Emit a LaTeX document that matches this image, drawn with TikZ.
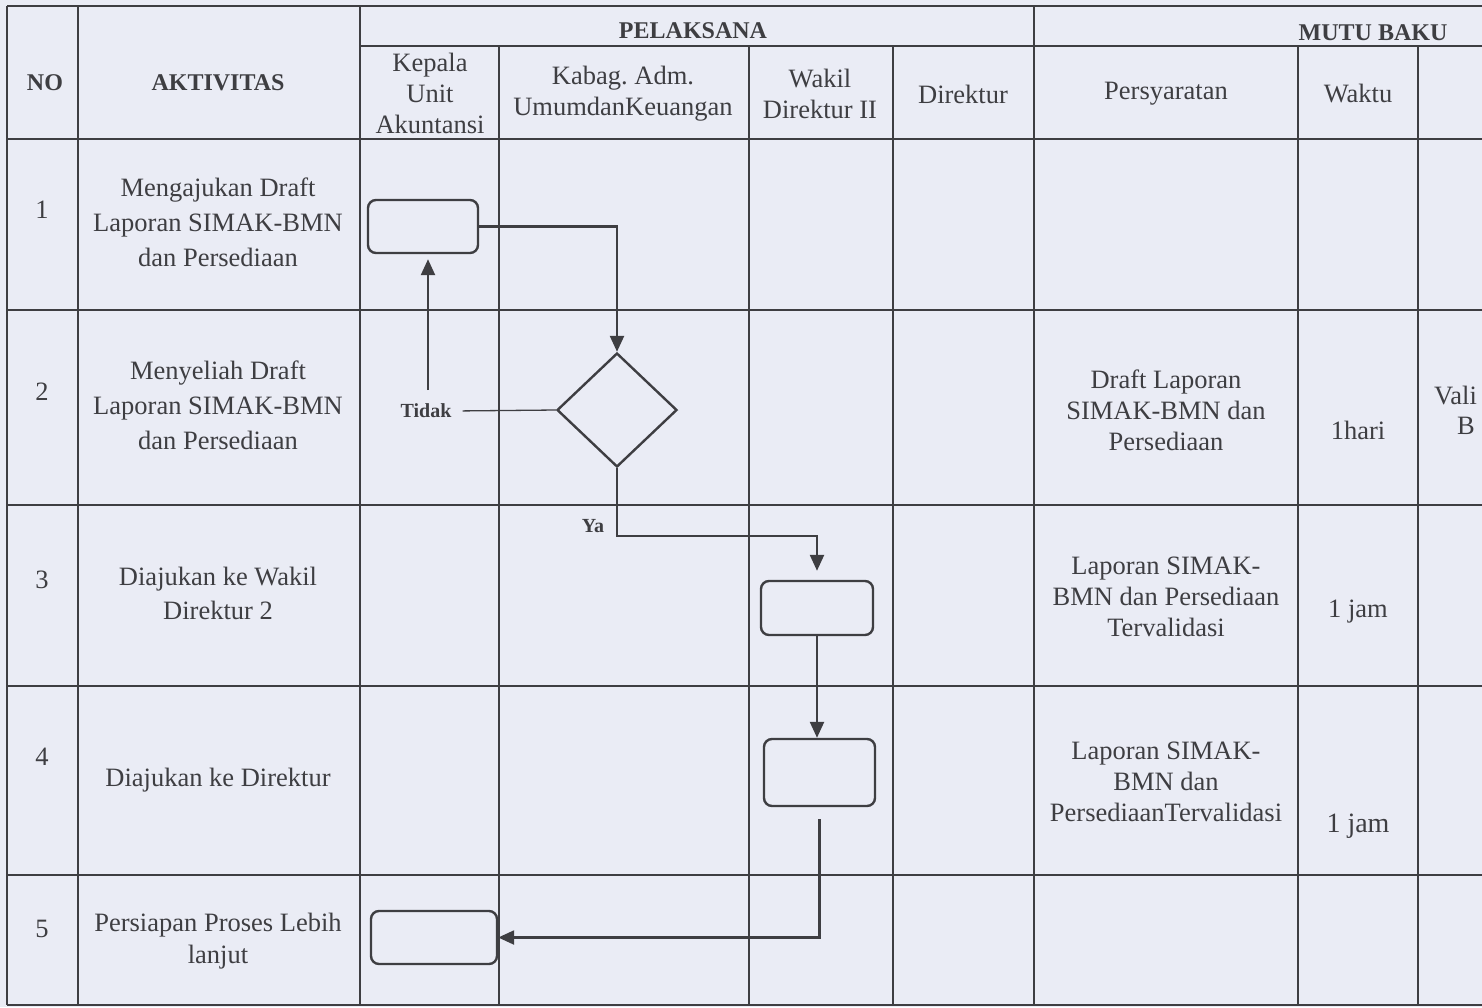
\documentclass[tikz,border=0pt]{standalone}
\usepackage{fontspec}
\setmainfont{Liberation Serif}
\usetikzlibrary{arrows.meta,shapes.geometric}
\definecolor{bg}{RGB}{234,236,245}
\definecolor{ink}{RGB}{62,62,66}
\begin{document}
\begin{tikzpicture}[x=1pt,y=-1pt,
  grid/.style={draw=ink,line width=1.3pt},
  box/.style={draw=ink,line width=2.4pt,rounded corners=8pt,minimum width=110pt,minimum height=53pt,inner sep=0pt},
  dec/.style={draw=ink,line width=2.4pt,diamond,minimum width=120pt,minimum height=114pt,inner sep=0pt},
  arr/.style={draw=ink,line width=2.4pt,-{Triangle[length=16pt,width=14pt]}},
  txt/.style={text=ink,align=center,font=\fontsize{26.5}{31}\selectfont,inner sep=0pt},
  act/.style={text=ink,align=center,font=\fontsize{26.5}{35}\selectfont,inner sep=0pt},
  hd/.style={text=ink,align=center,font=\bfseries\fontsize{24}{28}\selectfont,inner sep=0pt},
  lbl/.style={text=ink,font=\bfseries\fontsize{20}{24}\selectfont,inner sep=2pt}]
\fill[bg] (0,0) rectangle (1482,1007);
\useasboundingbox (0,0) rectangle (1482,1007);
% grid
\draw[grid] (7,6) -- (1482,6);
\draw[grid] (360,46) -- (1482,46);
\draw[grid] (7,139) -- (1482,139);
\foreach \yy in {310,505,686,875} {\draw[grid] (7,\yy) -- (1482,\yy);}
\draw[grid] (7,1005) -- (1482,1005);
\foreach \xx in {7,78,360,1034} {\draw[grid] (\xx,6) -- (\xx,1005);}
\foreach \xx in {499,749,893,1298,1418} {\draw[grid] (\xx,46) -- (\xx,1005);}
% headers
\node[hd] (hno) at (45,83) {NO};
\node[hd] (hakt) at (218,83) {AKTIVITAS};
\node[hd] (hpel) at (693,31) {PELAKSANA};
\node[hd] (hmutu) at (1373,33) {MUTU BAKU};
\node[txt] (hkep) at (430,93) {Kepala\\Unit\\Akuntansi};
\node[txt] (hkab) at (623,94) {Kabag.\ Adm.\\UmumdanKeuangan};
\node[txt] (hwak) at (820,94) {Wakil\\Direktur II};
\node[txt] (hdir) at (963,94) {Direktur};
\node[txt] (hper) at (1166,94) {Persyaratan};
\node[txt] (hwkt) at (1358,94) {Waktu};
% numbers
\node[txt] (n1) at (42,210) {1};
\node[txt] (n2) at (42,392) {2};
\node[txt] (n3) at (42,580) {3};
\node[txt] (n4) at (42,757) {4};
\node[txt] (n5) at (42,929) {5};
% activities
\node[act] (a1) at (218,222) {Mengajukan Draft\\Laporan SIMAK-BMN\\dan Persediaan};
\node[act] (a2) at (218,405) {Menyeliah Draft\\Laporan SIMAK-BMN\\dan Persediaan};
\node[act,font=\fontsize{26.5}{34}\selectfont] (a3) at (218,593) {Diajukan ke Wakil\\Direktur 2};
\node[act] (a4) at (218,780) {Diajukan ke Direktur};
\node[act,font=\fontsize{26.5}{32}\selectfont] (a5) at (218,941) {Persiapan Proses Lebih\\lanjut};
% persyaratan
\node[txt] (p2) at (1166,410) {Draft Laporan\\SIMAK-BMN dan\\Persediaan};
\node[txt] (p3) at (1166,597) {Laporan SIMAK-\\BMN dan Persediaan\\Tervalidasi};
\node[txt] (p4) at (1166,782) {Laporan SIMAK-\\BMN dan\\PersediaanTervalidasi};
% waktu
\node[txt] (w2) at (1358,430) {1hari};
\node[txt] (w3) at (1358,612) {1 jam};
\node[txt,font=\fontsize{28}{32}\selectfont] (w4) at (1358,826) {1 jam};
% output column (cut off)
\node[txt,anchor=west] (o1) at (1434,395) {Vali};
\node[txt,anchor=west] (o2) at (1457,426) {B};
% flow shapes
\node[box] (b1) at (423,226.5) {};
\node[dec] (d) at (617,410) {};
\node[box,minimum width=112pt,minimum height=54pt] (b2) at (817,608) {};
\node[box,minimum width=111pt,minimum height=67pt] (b3) at (819.5,772.5) {};
\node[box,minimum width=126pt,minimum height=53pt] (b4) at (434,937.5) {};
\node[lbl] (tdk) at (426,411) {Tidak};
\node[lbl] (ya) at (593,526) {Ya};
\coordinate (tup) at (428,390);
\coordinate (yturn) at (617,536);
% connectors
\draw[arr] (b1.east) -| (d.north);
\draw[draw=ink,line width=1.3pt,shorten >=9pt] (d.west) -- (tdk.east);
\draw[arr,shorten >=5pt] (tup) -- (tup |- b1.south);
\draw[arr,shorten >=9pt] (d.south) -- (yturn) -| (b2.north);
\draw[arr] (b2.south) -- (b2.south |- b3.north);
\draw[arr,shorten <=12pt] (b3.south) |- (b4.east);
\end{tikzpicture}
\end{document}
